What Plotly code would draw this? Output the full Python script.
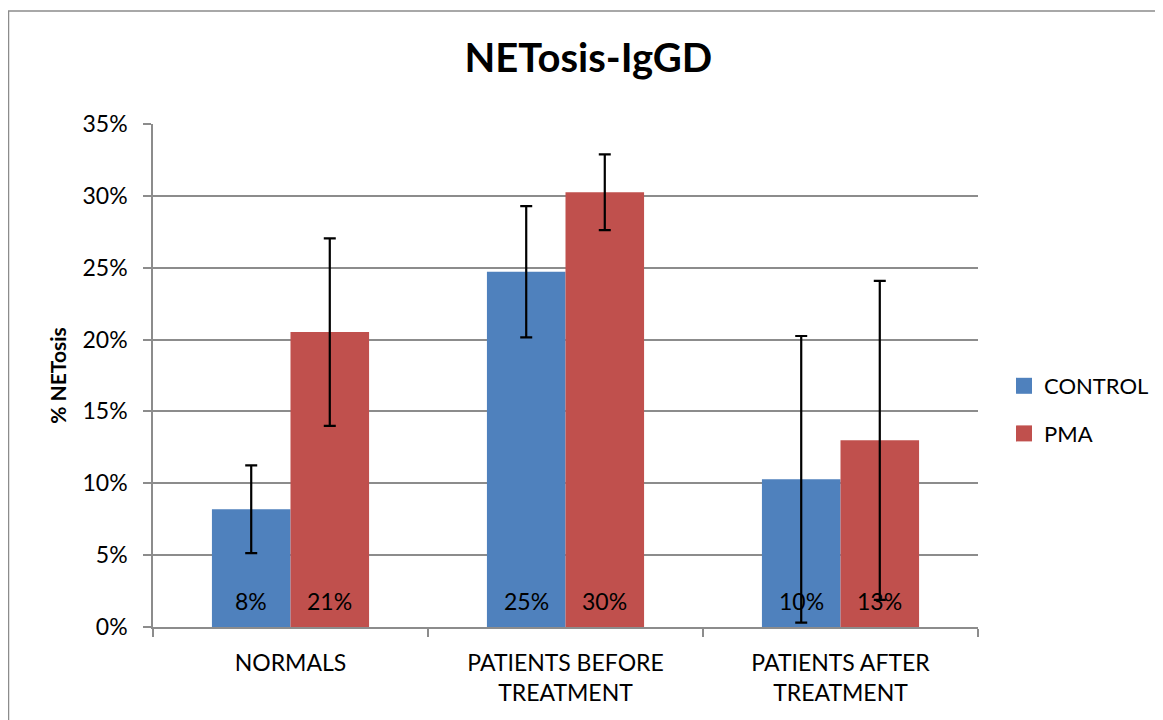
import plotly.graph_objects as go

categories = ["NORMALS", "PATIENTS BEFORE<br>TREATMENT", "PATIENTS AFTER<br>TREATMENT"]
control_values = [0.0819, 0.2472, 0.1028]
control_errors = [0.0305, 0.0457, 0.0997]
pma_values = [0.2052, 0.3025, 0.1299]
pma_errors = [0.0652, 0.0263, 0.1110]
y_ticks = [0, 0.05, 0.10, 0.15, 0.20, 0.25, 0.30, 0.35]

FONT = "Lato, Calibri, 'Open Sans', sans-serif"
GRID = "#8c8c8c"
OFF = 8  # page body margin
W, H = 1163, 720
L, T = 153 - OFF, 124 - OFF
R = W - (978 - OFF)
B = H - (627 - OFF)
PW, PH = W - L - R, H - T - B

series = [
    ("CONTROL", control_values, control_errors, "#4F81BD", -1),
    ("PMA", pma_values, pma_errors, "#C0504D", 1),
]

fig = go.Figure()
for name, vals, errs, color, side in series:
    fig.add_trace(go.Bar(
        name=name, x=categories, y=vals, marker=dict(color=color, line=dict(width=0)),
        error_y=dict(type="data", array=errs, visible=True, color="black", thickness=2.2, width=6),
        showlegend=False, hoverinfo="y",
    ))
# legend entries with larger square swatches
for name, vals, errs, color, side in series:
    fig.add_trace(go.Scatter(
        name=name, x=[None], y=[None], mode="markers",
        marker=dict(symbol="square", size=16, color=color), legendgroup=name,
    ))

# value labels near the base of each bar
bar_px = PW / 3 * (1 - 0.4286) / 2
for name, vals, errs, color, side in series:
    for c, v in zip(categories, vals):
        fig.add_annotation(x=c, y=0, text=f"{v:.0%}", showarrow=False,
                           xshift=side * bar_px / 2, yshift=26, yanchor="middle",
                           font=dict(family=FONT, size=23, color="black"))

fig.update_layout(
    width=W, height=H,
    margin=dict(l=L, r=R, t=T, b=B, autoexpand=False),
    paper_bgcolor="white", plot_bgcolor="white",
    barmode="group", bargap=0.4286, bargroupgap=0,
    font=dict(family=FONT, size=23, color="black"),
    title=dict(text="<b>NETosis-IgGD</b>", x=0.499, xanchor="center", y=0.93, yanchor="middle",
               font=dict(family=FONT, size=40, color="black")),
    legend=dict(x=(1004 - OFF - L) / PW, y=(627 - 365) / PH, xanchor="left", yanchor="top",
                tracegroupgap=16, font=dict(family=FONT, size=22, color="black"), itemwidth=30),
    showlegend=True,
)
fig.update_yaxes(
    range=[0, 0.35], tickvals=y_ticks, tickformat=".0%",
    showgrid=True, gridcolor=GRID, gridwidth=1.5,
    showline=True, linecolor=GRID, linewidth=1.5,
    ticks="outside", ticklen=8, tickcolor=GRID, tickwidth=1.5,
    ticklabelstandoff=11,
    tickfont=dict(family=FONT, size=23, color="black"),
    title=dict(text="<b>% NETosis</b>", font=dict(family=FONT, size=21, color="black"), standoff=10),
    zeroline=False, automargin=False,
)
fig.update_xaxes(
    type="category", showline=True, linecolor=GRID, linewidth=1.5,
    ticks="outside", tickson="boundaries", ticklen=8, tickcolor=GRID, tickwidth=1.5,
    ticklabelstandoff=15,
    tickfont=dict(family=FONT, size=23, color="black"), automargin=False,
)
fig.add_shape(type="rect", xref="paper", yref="paper",
              x0=(0.5 - L) / PW, x1=(1180 - L) / PW,
              y0=(H - B - 740) / PH, y1=(H - B - 3) / PH,
              line=dict(color=GRID, width=1.5), fillcolor="rgba(0,0,0,0)", layer="below")

fig.write_html("out.html")
